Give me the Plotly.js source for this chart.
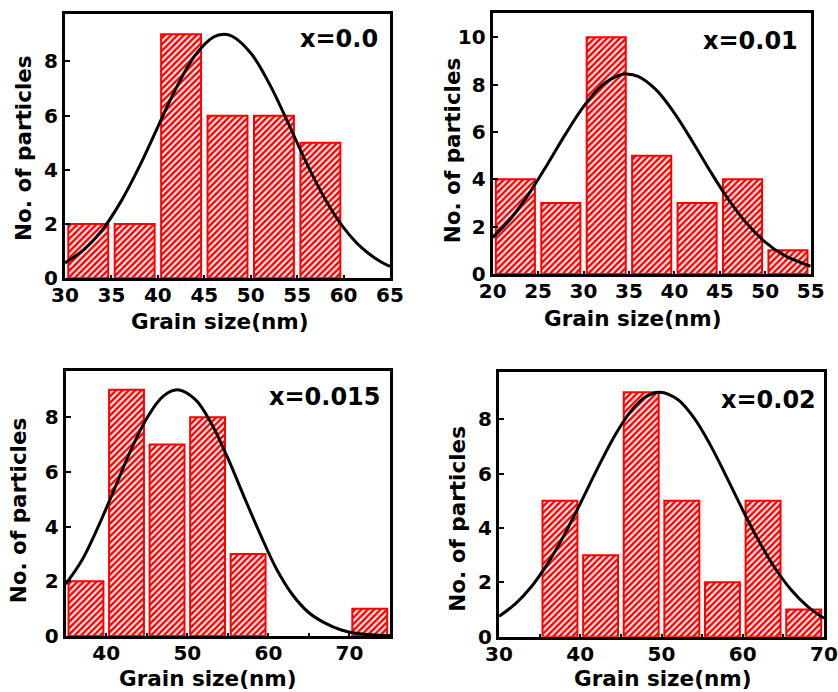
<!DOCTYPE html>
<html><head><meta charset="utf-8">
<script src="https://cdn.plot.ly/plotly-3.0.1.min.js"></script>
<style>html,body{margin:0;padding:0;background:#fff}#chart{width:838px;height:692px}</style>
</head><body><div id="chart"></div>
<script>
// Panel labels
const panelLabels = ['x=0.0', 'x=0.01', 'x=0.015', 'x=0.02'];
const xTitle = 'Grain size(nm)';
const yTitle = 'No. of particles';

// Panel A (x=0.0)
const binsA = [32.5, 37.5, 42.5, 47.5, 52.5, 57.5];
const countsA = [2, 2, 9, 6, 6, 5];
const fitXA = [30, 32, 34, 36, 38, 40, 42, 44, 46, 47.1, 48, 50, 52, 54, 56, 58, 60, 62, 64, 65];
const fitYA = [0.57, 1.05, 1.78, 2.82, 4.12, 5.59, 7.04, 8.22, 8.90, 9.0, 8.93, 8.31, 7.18, 5.75, 4.26, 2.93, 1.87, 1.11, 0.61, 0.44];

// Panel B (x=0.01)
const binsB = [22.5, 27.5, 32.5, 37.5, 42.5, 47.5, 52.5];
const countsB = [4, 3, 10, 5, 3, 4, 1];
const fitXB = [20, 22, 24, 26, 28, 30, 32, 34, 34.75, 36, 38, 40, 42, 44, 46, 48, 50, 52, 55];
const fitYB = [1.55, 2.35, 3.40, 4.62, 5.90, 7.07, 7.96, 8.41, 8.45, 8.35, 7.78, 6.80, 5.59, 4.31, 3.12, 2.12, 1.35, 0.81, 0.33];

// Panel C (x=0.015) - empty bins (62.5, 67.5) have no bar drawn
const binsC = [37.5, 42.5, 47.5, 52.5, 57.5, 72.5];
const countsC = [2, 9, 7, 8, 3, 1];
const fitXC = [35, 37, 39, 41, 43, 45, 47, 48.8, 51, 53, 55, 57, 59, 61, 63, 65, 67, 69, 71, 73, 75];
const fitYC = [1.9, 2.77, 3.99, 5.37, 6.77, 7.96, 8.76, 9.0, 8.64, 7.75, 6.5, 5.09, 3.72, 2.45, 1.5, 0.85, 0.47, 0.22, 0.09, 0.04, 0.02];

// Panel D (x=0.02)
const binsD = [37.5, 42.5, 47.5, 52.5, 57.5, 62.5, 67.5];
const countsD = [5, 3, 9, 5, 2, 5, 1];
const fitXD = [30, 32, 34, 36, 38, 40, 42, 44, 46, 48, 49.8, 52, 54, 56, 58, 60, 62, 64, 66, 68, 70];
const fitYD = [0.75, 1.21, 1.85, 2.70, 3.73, 4.90, 6.12, 7.27, 8.21, 8.82, 9.0, 8.73, 8.05, 7.06, 5.88, 4.66, 3.51, 2.51, 1.71, 1.11, 0.68];

const FONT = 'DejaVu Sans';

function barTrace(x, y, xa, ya) {
  return {
    type: 'bar', x: x, y: y, xaxis: xa, yaxis: ya, width: 4.3,
    marker: {
      color: 'red',
      line: {color: 'red', width: 2},
      pattern: {shape: '/', fgcolor: 'red', bgcolor: 'white', size: 4.5, solidity: 0.55}
    },
    showlegend: false, hoverinfo: 'skip'
  };
}
function fitTrace(x, y, xa, ya) {
  return {
    type: 'scatter', mode: 'lines', x: x, y: y, xaxis: xa, yaxis: ya,
    line: {color: 'black', width: 3, shape: 'spline', smoothing: 1},
    showlegend: false, hoverinfo: 'skip'
  };
}

const data = [
  barTrace(binsA, countsA, 'x', 'y'), fitTrace(fitXA, fitYA, 'x', 'y'),
  barTrace(binsB, countsB, 'x2', 'y2'), fitTrace(fitXB, fitYB, 'x2', 'y2'),
  barTrace(binsC, countsC, 'x3', 'y3'), fitTrace(fitXC, fitYC, 'x3', 'y3'),
  barTrace(binsD, countsD, 'x4', 'y4'), fitTrace(fitXD, fitYD, 'x4', 'y4')
];

function axis(domain, range, dtick, anchor, ticklen, standoff, minorDtick) {
  const a = {
    domain: domain, range: range, dtick: dtick, tick0: 0, anchor: anchor,
    showline: true, mirror: true, linewidth: 3, linecolor: 'black',
    ticks: 'inside', ticklen: ticklen, tickwidth: 2, tickcolor: 'black',
    ticklabelstandoff: standoff,
    showgrid: false, zeroline: false, fixedrange: true,
    tickfont: {family: FONT, size: 20, color: 'black', weight: 'bold'}
  };
  if (minorDtick) {
    a.minor = {ticks: 'inside', dtick: minorDtick, tick0: 0, ticklen: 3, tickwidth: 2, tickcolor: 'black', showgrid: false};
  }
  return a;
}

function ann(text, px, py, xanchor, angle, size) {
  return {
    text: text, xref: 'paper', yref: 'paper', x: px / 838, y: 1 - py / 692,
    xanchor: xanchor, yanchor: 'middle', showarrow: false, textangle: angle,
    font: {family: FONT, size: size, color: 'black', weight: 'bold'}
  };
}

const layout = {
  width: 838, height: 692,
  margin: {l: 0, r: 0, t: 0, b: 0},
  paper_bgcolor: 'white', plot_bgcolor: 'white',
  bargap: 0,
  xaxis: axis([0.0776, 0.4654], [30, 65], 5, 'y', 3, -3),
  yaxis: axis([0.5978, 0.9798], [0, 9.75], 2, 'x', 5, 0),
  xaxis2: axis([0.5879, 0.9674], [20, 55], 5, 'y2', 3, -3),
  yaxis2: axis([0.6040, 0.9816], [0, 11.04], 2, 'x2', 5, 0),
  xaxis3: axis([0.0784, 0.4654], [35, 75], 10, 'y3', 3, -3, 5),
  yaxis3: axis([0.0809, 0.4643], [0, 9.7], 2, 'x3', 5, 0),
  xaxis4: axis([0.5955, 0.9833], [30, 70], 10, 'y4', 3, -3, 5),
  yaxis4: axis([0.0799, 0.4620], [0, 9.73], 2, 'x4', 5, 0),
  annotations: [
    ann(panelLabels[0], 380, 39.5, 'right', 0, 24),
    ann(panelLabels[1], 800, 40.7, 'right', 0, 24),
    ann(panelLabels[2], 383, 397.3, 'right', 0, 24),
    ann(panelLabels[3], 818.3, 400, 'right', 0, 24),
    ann(xTitle, 220, 321.7, 'center', 0, 21.5),
    ann(xTitle, 633, 318.3, 'center', 0, 21.5),
    ann(xTitle, 208, 678.5, 'center', 0, 21.5),
    ann(xTitle, 663, 678.5, 'center', 0, 21.5),
    ann(yTitle, 24, 148, 'center', -90, 21.5),
    ann(yTitle, 453.3, 150, 'center', -90, 21.5),
    ann(yTitle, 18.3, 510, 'center', -90, 21.5),
    ann(yTitle, 456.7, 519, 'center', -90, 21.5)
  ]
};

Plotly.newPlot('chart', data, layout, {staticPlot: true, displayModeBar: false});
</script>
</body></html>
